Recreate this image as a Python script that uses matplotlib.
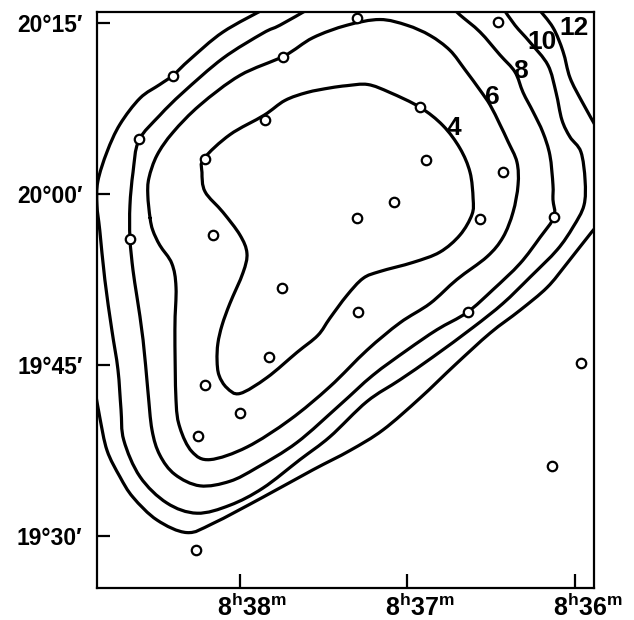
import matplotlib
matplotlib.use("Agg")
import matplotlib.pyplot as plt
from matplotlib.path import Path
from matplotlib.patches import PathPatch

plt.rcParams['font.family'] = ['Liberation Sans', 'DejaVu Sans']
plt.rcParams['mathtext.fontset'] = 'custom'
plt.rcParams['mathtext.rm'] = 'Liberation Sans:bold'
plt.rcParams['mathtext.it'] = 'Liberation Sans:bold'

# x: right ascension, seconds of time after 8h36m ; y: declination, arcmin after 19d00'
x_ticks = [120, 60, 0]
x_labels = [r'8$^{\mathrm{h}}$38$^{\mathrm{m}}$', r'8$^{\mathrm{h}}$37$^{\mathrm{m}}$', r'8$^{\mathrm{h}}$36$^{\mathrm{m}}$']
y_ticks = [30, 45, 60, 75]
y_labels = ['19°30′', '19°45′', '20°00′', '20°15′']

# observation points
pt_ra = [78.1, 27.6, 144.0, 104.6, 156.2, 111.0, 132.5, 55.5, 53.4, 25.8, 64.8, 78.1, 34.0,
         7.5, 159.4, 129.7, 105.0, 77.7, 38.3, 109.6, 132.5, 120.0, -2.1, 135.0, 8.2, 135.8]
pt_dec = [75.4, 75.1, 70.35, 72.0, 64.8, 66.5, 63.1, 67.6, 63.0, 61.9, 59.3, 57.9, 57.8,
          58.0, 56.05, 56.4, 51.75, 49.65, 49.65, 45.7, 43.25, 40.8, 45.2, 38.8, 36.1, 28.8]

# contour level 4 (closed)
c4_ra = [132.9, 123.6, 111.4, 103.9, 96.0, 87.8, 81.7, 74.2, 66.3, 55.5, 47.3, 41.2, 37.6, 36.5,
         36.9, 41.2, 48.4, 58.0, 69.9, 75.9, 81.7, 87.8, 92.1, 99.6, 110.3, 120.0, 124.7, 127.5,
         128.2, 127.9, 126.4, 123.6, 118.9, 117.5, 120.0, 126.1, 132.5, 133.6]
c4_dec = [63.1, 65.2, 66.9, 68.2, 68.9, 69.3, 69.5, 69.6, 68.9, 67.6, 66.0, 64.0, 61.9, 59.6,
          58.2, 56.4, 54.9, 54.0, 53.2, 52.6, 51.1, 49.1, 47.6, 46.1, 43.9, 42.5, 43.0, 44.1,
          45.4, 46.9, 48.5, 50.4, 53.1, 54.8, 56.4, 58.4, 60.2, 61.9]

# contour level 6 (closed)
c6_ra = [152.2, 153.0, 152.6, 149.7, 144.0, 134.3, 120.0, 104.2, 93.9, 81.7, 69.9, 60.2, 51.9,
         44.8, 39.4, 34.0, 30.4, 26.9, 24.0, 20.8, 20.4, 22.2, 25.8, 31.5, 42.3, 51.9, 62.7,
         74.5, 87.8, 102.1, 117.5, 130.7, 137.2, 141.5, 142.9, 143.3, 142.9, 144.4, 148.7,
         151.2]
c6_dec = [57.9, 59.9, 61.4, 63.4, 65.4, 67.8, 70.4, 72.1, 73.7, 74.8, 75.3, 74.8, 73.9,
          72.6, 70.9, 69.1, 67.8, 66.1, 64.6, 62.8, 60.8, 58.4, 56.2, 54.5, 52.5, 50.4, 48.7,
          46.3, 43.1, 40.2, 37.8, 36.7, 37.4, 39.5, 41.9, 48.1, 51.8, 53.9, 55.5,
          56.8]

# contour level 8 (open, leaves through the top edge)
c8_ra = [95.6, 105.7, 111.8, 126.1, 140.4, 148.7, 156.2, 158.3, 159.4, 159.4, 158.3, 156.9,
         154.7, 153.0, 151.5, 148.7, 143.3, 134.3, 123.6, 113.9, 99.6, 84.2, 72.4, 60.2, 49.4,
         38.7, 29.4, 19.7, 12.5, 7.5, 7.9, 7.9, 9.0, 11.5, 15.0, 18.6, 21.5, 26.9, 34.0, 41.2, 43.7]
c8_dec = [76.2, 74.8, 74.1, 71.9, 68.9, 66.9, 64.7, 61.9, 59.0, 56.1, 53.3, 51.0,
          47.2, 42.8, 39.3, 37.1, 35.4, 34.4, 34.8, 36.0, 38.2, 41.5, 44.1, 46.3, 48.1,
          49.6, 51.6, 53.9, 56.2, 58.0, 59.5, 60.8, 63.4, 65.4, 67.2, 68.9, 70.7, 72.2, 74.2, 75.7, 76.3]

# contour level 10 (open)
c10_ra = [110.7, 126.1, 137.9, 144.0, 148.7, 155.8, 163.0, 167.6, 170.9, 171.2, 170.2, 168.4,
          165.9, 163.7, 162.6, 161.6, 155.8, 146.2, 135.4, 123.6, 111.8, 98.5, 87.8, 74.5, 62.7,
          50.9, 36.5, 25.8, 16.1, 6.4, 0.7, -3.2, -3.6, -2.1, 1.8, 4.7, 6.8, 9.7, 16.1, 21.5, 25.8]
c10_dec = [76.3, 74.2, 71.8, 70.4, 69.6, 68.4, 66.1, 63.7, 61.1, 59.0, 56.8, 52.5,
           48.1, 44.6, 41.1, 38.4, 35.2, 32.9, 32.0, 32.7, 34.2, 36.7, 38.7, 41.8, 43.7,
           45.7, 48.3, 50.4, 52.7, 55.1, 57.1, 59.0, 61.2, 63.7, 65.0, 66.5, 68.9, 71.3, 73.3, 74.8, 76.3]

# contour level 12 (two open pieces)
c12a_ra = [171.9, 170.2, 167.6, 163.0, 158.3, 149.7, 139.0, 129.7, 111.8, 93.9, 80.6, 68.8,
           55.5, 43.0, 30.4, 19.7, 10.0, 2.9, -6.1, -8.2]
c12a_dec = [42.8, 40.4, 37.5, 35.2, 33.4, 31.4, 30.3, 31.1, 33.4, 35.8, 37.5, 39.3,
            42.1, 45.0, 47.8, 49.8, 51.8, 53.9, 56.7, 57.2]
c12b_ra = [13.3, 7.9, 4.3, 1.8, -2.5, -8.2]
c12b_dec = [76.3, 74.6, 72.5, 70.2, 68.1, 65.6]

# contour labels
lab_text = ['12', '10', '8', '6', '4']
lab_ra = [0.4, 11.8, 19.7, 29.7, 43.3]
lab_dec = [74.6, 73.3, 70.8, 68.5, 65.8]


def smooth_path(xs, ys, closed):
    """Cubic Bezier path through the traced vertices (Catmull-Rom tangents)."""
    pts = list(zip(xs, ys))
    n = len(pts)
    verts = [pts[0]]
    codes = [Path.MOVETO]
    nseg = n if closed else n - 1
    for i in range(nseg):
        p1 = pts[i]
        p2 = pts[(i + 1) % n]
        if closed:
            p0 = pts[(i - 1) % n]
            p3 = pts[(i + 2) % n]
        else:
            p0 = pts[i - 1] if i > 0 else p1
            p3 = pts[i + 2] if i + 2 < n else p2
        c1 = (p1[0] + (p2[0] - p0[0]) / 6.0, p1[1] + (p2[1] - p0[1]) / 6.0)
        c2 = (p2[0] - (p3[0] - p1[0]) / 6.0, p2[1] - (p3[1] - p1[1]) / 6.0)
        verts += [c1, c2, p2]
        codes += [Path.CURVE4] * 3
    return Path(verts, codes)


fig = plt.figure(figsize=(6.34, 6.20), dpi=100)
ax = fig.add_axes([97 / 634, 32 / 620, 497 / 634, 576 / 620])

lw = 2.3
for xs, ys, closed in [(c4_ra, c4_dec, True), (c6_ra, c6_dec, True), (c8_ra, c8_dec, False),
                       (c10_ra, c10_dec, False), (c12a_ra, c12a_dec, False),
                       (c12b_ra, c12b_dec, False)]:
    ax.add_patch(PathPatch(smooth_path(xs, ys, closed), facecolor='none', edgecolor='black',
                           lw=lw, capstyle='round', joinstyle='round', zorder=2))

ax.plot(pt_ra, pt_dec, linestyle='none', marker='o', markersize=6.8, markerfacecolor='white',
        markeredgecolor='black', markeredgewidth=1.6, zorder=3)

for t, xr, yd in zip(lab_text, lab_ra, lab_dec):
    ax.text(xr, yd, t, fontsize=19, ha='center', va='center', color='black', zorder=4,
            family=['Liberation Sans Narrow', 'Liberation Sans'], fontweight='bold')

ax.set_xlim(171.2, -6.8)
ax.set_ylim(25.44, 75.96)

for sp in ax.spines.values():
    sp.set_linewidth(1.6)

ax.set_yticks(y_ticks)
ax.set_yticklabels(y_labels, fontsize=16.5, fontweight='bold')
ax.tick_params(axis='y', direction='in', length=9.5, width=1.6, pad=10.5)
ax.set_xticks(x_ticks)
ax.set_xticklabels([])
ax.tick_params(axis='x', direction='in', length=10, width=1.6)

for xt, xl in zip(x_ticks, x_labels):
    ax.annotate(xl, xy=(xt, 0), xycoords=('data', 'axes fraction'), xytext=(9, -4),
                textcoords='offset points', ha='center', va='top', fontsize=18,
                fontweight='bold', annotation_clip=False)

fig.savefig('out.png', dpi=100)
